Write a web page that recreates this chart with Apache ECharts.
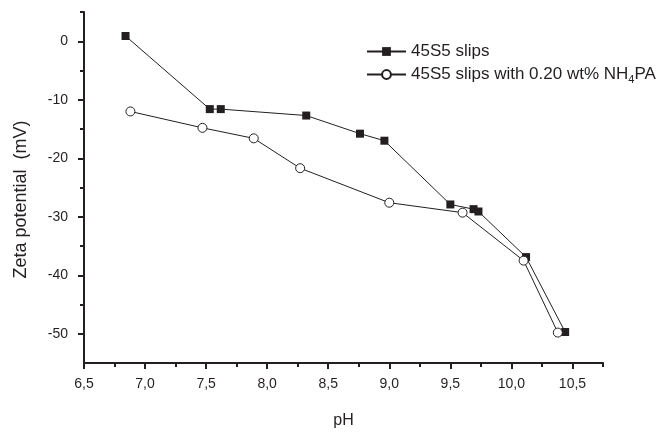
<!DOCTYPE html>
<html>
<head>
<meta charset="utf-8">
<script src="https://cdn.jsdelivr.net/npm/echarts@6/dist/echarts.min.js"></script>
<style>html,body{margin:0;padding:0;background:#fff}#c{width:660px;height:434px}</style>
</head>
<body>
<div id="c"></div>
<script>
const seriesNames = ['45S5 slips', '45S5 slips with 0.20 wt% NH4PA'];
const slipsPH = [6.84, 7.53, 7.62, 8.32, 8.76, 8.96, 9.50, 9.69, 9.73, 10.12, 10.44];
const slipsZeta = [0.9, -11.6, -11.6, -12.7, -15.8, -17.0, -27.9, -28.7, -29.1, -36.9, -49.7];
const pamPH = [6.88, 7.47, 7.89, 8.27, 9.00, 9.60, 10.10, 10.38];
const pamZeta = [-12.0, -14.8, -16.6, -21.7, -27.6, -29.3, -37.5, -49.8];
const xMajor = [6.5, 7.0, 7.5, 8.0, 8.5, 9.0, 9.5, 10.0, 10.5];
const xMinor = [6.75, 7.25, 7.75, 8.25, 8.75, 9.25, 9.75, 10.25, 10.75];
const yMajor = [-50, -40, -30, -20, -10, 0];
const yMinor = [-45, -35, -25, -15, -5, 5];

const ink = '#231f20';
const font = 'Liberation Sans, Arial, sans-serif';
const chart = echarts.init(document.getElementById('c'));
const xBase = {type: 'value', min: 6.5, max: 10.75, splitLine: {show: false}};
const yBase = {type: 'value', min: -55, max: 5, splitLine: {show: false}};
chart.setOption({
  animation: false,
  grid: {left: 84, right: 57, top: 12, bottom: 62},
  legend: {
    orient: 'vertical', left: 361, top: 37, itemWidth: 39, itemHeight: 11, itemGap: 3,
    data: seriesNames,
    formatter: n => n === seriesNames[1] ? '45S5 slips with 0.20 wt% NH{sub|4}PA' : n,
    textStyle: {fontFamily: font, fontSize: 17, lineHeight: 19, color: ink,
      rich: {sub: {fontFamily: font, fontSize: 11, color: ink, lineHeight: 19, padding: [10, 0, 0, 0]}}}
  },
  xAxis: [
    Object.assign({}, xBase, {
      name: 'pH', nameLocation: 'middle', nameGap: 50,
      nameTextStyle: {fontFamily: font, fontSize: 16, color: ink},
      axisLine: {onZero: false, lineStyle: {color: ink, width: 2}},
      axisTick: {customValues: xMajor, length: 6, lineStyle: {color: ink, width: 2}},
      axisLabel: {customValues: xMajor, margin: 14, fontFamily: font, fontSize: 14, color: ink,
        formatter: v => v.toFixed(1).replace('.', ',')}
    }),
    Object.assign({}, xBase, {
      position: 'bottom',
      axisLine: {show: false, onZero: false},
      axisTick: {customValues: xMinor, length: 4, lineStyle: {color: ink, width: 2}},
      axisLabel: {show: false}
    })
  ],
  yAxis: [
    Object.assign({}, yBase, {
      name: 'Zeta potential  (mV)', nameLocation: 'middle', nameGap: 54,
      nameTextStyle: {fontFamily: font, fontSize: 18, color: ink, padding: [0, 24, 0, 0]},
      axisLine: {onZero: false, lineStyle: {color: ink, width: 2}},
      axisTick: {customValues: yMajor, length: 6, lineStyle: {color: ink, width: 2}},
      axisLabel: {customValues: yMajor, margin: 16, fontFamily: font, fontSize: 14, color: ink}
    }),
    Object.assign({}, yBase, {
      position: 'left',
      axisLine: {show: false, onZero: false},
      axisTick: {customValues: yMinor, length: 4, lineStyle: {color: ink, width: 2}},
      axisLabel: {show: false}
    })
  ],
  series: [
    {
      name: seriesNames[0], type: 'line', data: slipsPH.map((x, i) => [x, slipsZeta[i]]),
      symbol: 'rect', symbolSize: 8,
      itemStyle: {color: ink, borderColor: ink, borderWidth: 0},
      lineStyle: {color: ink, width: 1}
    },
    {
      name: seriesNames[1], type: 'line', data: pamPH.map((x, i) => [x, pamZeta[i]]),
      symbol: 'circle', symbolSize: 9, showAllSymbol: true,
      itemStyle: {color: '#fff', borderColor: ink, borderWidth: 1},
      lineStyle: {color: ink, width: 1}
    }
  ]
});
</script>
</body>
</html>
